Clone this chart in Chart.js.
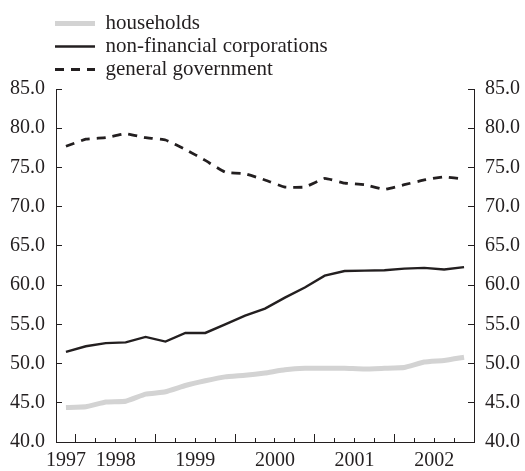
<!DOCTYPE html>
<html>
<head>
<meta charset="utf-8">
<script src="https://cdn.jsdelivr.net/npm/chart.js@4.4.1/dist/chart.umd.min.js"></script>
<style>
  html, body { margin: 0; padding: 0; background: #fff; }
  canvas { display: block; }
</style>
</head>
<body>
<canvas id="myChart" width="525" height="471"></canvas>
<script>
// quarterly observations, 1997 Q4 - 2002 Q4
const quarters = [
  "1997Q4",
  "1998Q1", "1998Q2", "1998Q3", "1998Q4",
  "1999Q1", "1999Q2", "1999Q3", "1999Q4",
  "2000Q1", "2000Q2", "2000Q3", "2000Q4",
  "2001Q1", "2001Q2", "2001Q3", "2001Q4",
  "2002Q1", "2002Q2", "2002Q3", "2002Q4",
];
const households = [
  44.4, 44.5, 45.1, 45.2, 46.1, 46.4, 47.2, 47.8, 48.3, 48.5, 48.8,
  49.2, 49.4, 49.4, 49.4, 49.3, 49.4, 49.5, 50.2, 50.4, 50.8,
];
const corporations = [
  51.5, 52.2, 52.6, 52.7, 53.4, 52.8, 53.9, 53.9, 55.0, 56.1, 57.0,
  58.4, 59.7, 61.2, 61.8, 61.85, 61.9, 62.1, 62.2, 62.0, 62.3,
];
const government = [
  77.7, 78.6, 78.8, 79.3, 78.8, 78.5, 77.3, 75.9, 74.4, 74.2, 73.4,
  72.5, 72.5, 73.6, 73.0, 72.8, 72.2, 72.8, 73.4, 73.8, 73.5,
];
const yearLabels = ["1997", "1998", "1999", "2000", "2001", "2002"];

const xMin = 1997.75;
const xMax = 2003;
const ink = "#231f20";

function quarterToX(q) {
  return Number(q.slice(0, 4)) + (Number(q.slice(5)) - 0.5) / 4;
}
function toPoints(values) {
  return values.map((v, i) => ({ x: quarterToX(quarters[i]), y: v }));
}

// year labels sit in the middle of the visible part of each year
const labelAt = {};
yearLabels.forEach((y) => {
  const yr = Number(y);
  labelAt[((Math.max(yr, xMin) + Math.min(yr + 1, xMax)) / 2).toFixed(3)] = y;
});
let quarterTicks = [];
for (let v = 1998; v < xMax; v += 0.25) quarterTicks.push(v);
const yearTicks = yearLabels.map(Number).filter((v) => v > xMin);

Chart.defaults.font.family = "'Liberation Serif', 'DejaVu Serif', serif";
Chart.defaults.font.size = 20;
Chart.defaults.color = ink;

const legendPlace = {
  id: "legendPlace",
  afterLayout(chart) {
    const lg = chart.legend;
    lg.left = 53;
    lg.top = 11;
    lg.right = 420;
    lg.bottom = 88;
    lg.width = lg.right - lg.left;
    lg.height = lg.bottom - lg.top;
  },
};

let ctx = document.querySelector("#myChart").getContext("2d");

let debtChart = new Chart(ctx, {
  type: "line",
  data: {
    datasets: [
      {
        label: "households",
        data: toPoints(households),
        borderColor: "#d3d3d3",
        borderWidth: 5,
        tension: 0.1,
      },
      {
        label: "non-financial corporations",
        data: toPoints(corporations),
        borderColor: ink,
        borderWidth: 2.4,
        tension: 0,
      },
      {
        label: "general government",
        data: toPoints(government),
        borderColor: ink,
        borderWidth: 2.8,
        borderDash: [9, 7],
        tension: 0.1,
      },
    ],
  },
  options: {
    responsive: false,
    animation: false,
    devicePixelRatio: 1,
    layout: { padding: { top: 89, left: 0, right: 0, bottom: 0 } },
    elements: { point: { radius: 0, hoverRadius: 0 } },
    plugins: {
      tooltip: { enabled: false },
      legend: {
        position: "chartArea",
        align: "start",
        labels: {
          usePointStyle: true,
          pointStyleWidth: 40,
          padding: 2,
          color: ink,
          font: { size: 21 },
          generateLabels(chart) {
            return chart.data.datasets.map((ds, i) => ({
              text: ds.label,
              strokeStyle: ds.borderColor,
              fillStyle: ds.borderColor,
              lineWidth: ds.borderWidth,
              lineDash: ds.borderDash || [],
              pointStyle: "line",
              fontColor: ink,
              datasetIndex: i,
            }));
          },
        },
      },
    },
    scales: {
      x: {
        type: "linear",
        position: "bottom",
        min: xMin,
        max: xMax,
        afterBuildTicks(scale) {
          const vals = quarterTicks.concat(Object.keys(labelAt).map(Number));
          const uniq = [...new Set(vals.map((v) => v.toFixed(3)))].map(Number).sort((a, b) => a - b);
          scale.ticks = uniq.map((v) => ({ value: v }));
        },
        afterFit(scale) {
          scale.height = 24;
        },
        ticks: {
          autoSkip: false,
          maxRotation: 0,
          padding: 10.5,
          color: ink,
          callback: (v) => labelAt[Number(v).toFixed(3)] || "",
        },
        grid: {
          drawOnChartArea: false,
          tickLength: -4,
          tickColor: (c) => (c.tick && (c.tick.value * 4) % 1 === 0 ? ink : "transparent"),
        },
        border: { color: ink, width: 1 },
      },
      xYear: {
        type: "linear",
        axis: "x",
        position: { y: 40 },
        min: xMin,
        max: xMax,
        afterBuildTicks(scale) {
          scale.ticks = yearTicks.map((v) => ({ value: v }));
        },
        ticks: { display: false },
        grid: { drawOnChartArea: false, tickLength: -8, tickColor: ink },
        border: { display: false },
      },
      y: {
        position: "left",
        min: 40,
        max: 85,
        afterFit(scale) {
          scale.width = 56;
        },
        ticks: { stepSize: 5, padding: 17, color: ink, callback: (v) => v.toFixed(1) },
        grid: { drawOnChartArea: false, tickLength: -6, tickColor: ink },
        border: { color: ink, width: 1 },
      },
      y2: {
        position: "right",
        axis: "y",
        min: 40,
        max: 85,
        afterFit(scale) {
          scale.width = 51;
        },
        ticks: { stepSize: 5, padding: 17, color: ink, callback: (v) => v.toFixed(1) },
        grid: { drawOnChartArea: false, tickLength: -6, tickColor: ink },
        border: { color: ink, width: 1 },
      },
    },
  },
  plugins: [legendPlace],
});
</script>
</body>
</html>
